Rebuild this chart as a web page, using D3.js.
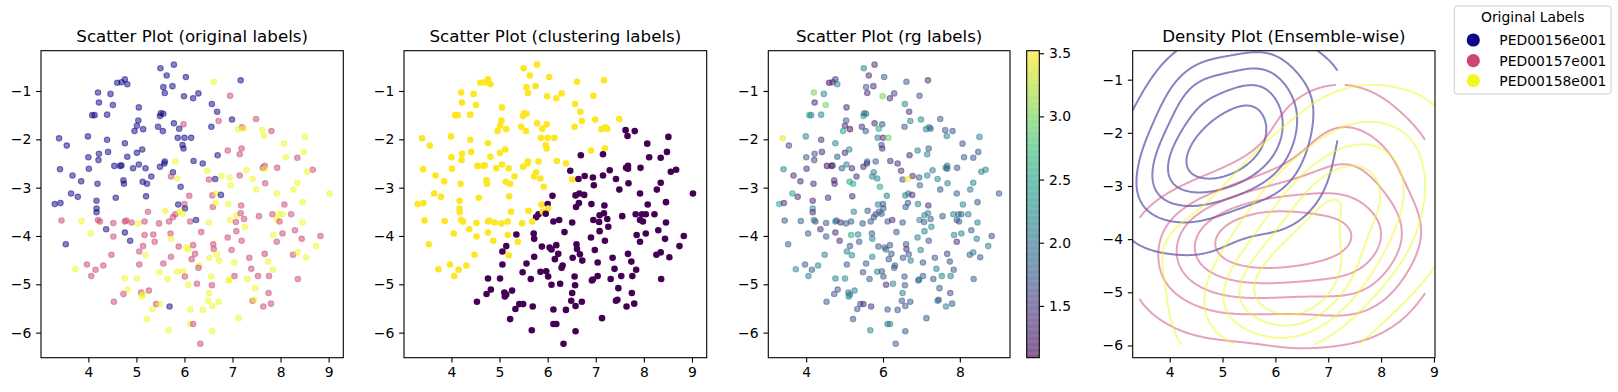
<!DOCTYPE html>
<html><head><meta charset="utf-8">
<script src="https://cdn.jsdelivr.net/npm/d3@7"></script>
<style>body{margin:0;background:#fff}svg{display:block}text{font-family:"DejaVu Sans",sans-serif}</style>
</head><body><svg id="c" width="1618" height="392"></svg>
<script>
const LABEL_NAMES = ["PED00156e001","PED00157e001","PED00158e001"];
const TITLES = ["Scatter Plot (original labels)","Scatter Plot (clustering labels)","Scatter Plot (rg labels)","Density Plot (Ensemble-wise)"];
const LEGEND_TITLE = "Original Labels";
const XTICKS = [4,5,6,7,8,9];
const XTICKS_RG = [4,6,8];
const YTICKS = [-1,-2,-3,-4,-5,-6];
const CBAR_TICKS = [1.5,2.0,2.5,3.0,3.5];
const KDE_QUANTILES = [0.05,0.24,0.43,0.62,0.81];
const BW_ADJUST = 1.25;

const X = [5.78,5.50,5.63,6.03,4.76,4.60,4.69,4.81,6.61,7.17,
5.56,5.75,4.20,4.46,5.59,6.29,5.99,6.18,6.95,4.22,
4.51,6.57,5.05,6.68,4.08,4.13,4.39,5.49,5.51,5.56,
6.71,6.99,7.49,5.04,5.78,5.98,5.01,5.14,5.45,6.56,
4.96,5.55,7.20,7.24,7.12,7.62,7.81,7.66,3.39,3.99,
4.39,4.76,5.86,6.00,6.14,3.55,5.96,8.51,8.07,7.19,
6.90,5.98,4.41,4.22,5.01,5.12,6.69,7.15,8.48,4.00,
4.21,4.81,8.11,8.35,5.81,6.19,6.38,5.59,5.58,3.41,
4.01,4.54,4.69,4.66,4.93,5.05,5.19,5.49,6.47,7.63,
7.67,7.67,7.93,7.29,8.67,8.56,3.67,5.31,5.76,5.72,
5.85,6.77,6.94,7.15,7.42,6.51,6.64,3.85,4.73,5.13,
5.22,4.74,4.19,5.92,6.96,7.68,8.35,7.49,3.64,3.78,
4.57,5.20,6.10,6.58,6.66,6.76,7.92,8.27,9.02,3.30,
3.42,4.17,5.87,6.00,6.01,6.59,6.65,6.91,7.18,8.08,
8.46,4.17,4.17,5.24,5.60,5.81,5.90,5.96,5.76,7.08,
7.17,7.83,7.96,8.04,8.22,3.44,3.86,4.20,4.24,4.52,
4.76,4.79,4.90,5.04,5.17,5.47,5.68,6.12,6.24,6.51,
6.95,7.07,7.24,7.55,7.92,7.98,8.46,4.37,4.76,4.87,
4.05,4.52,5.17,5.35,5.71,6.35,7.08,7.26,8.30,8.04,
7.85,6.90,7.19,5.72,5.38,3.53,7.92,8.44,8.83,8.74,
5.88,6.04,6.08,6.18,6.60,6.61,6.98,5.06,5.14,5.19,
4.48,5.72,6.22,6.15,6.52,6.67,6.72,7.35,7.67,7.74,
8.26,8.35,8.53,3.97,4.15,4.31,3.73,4.06,5.06,5.56,
6.31,6.29,7.04,5.48,5.85,5.97,6.01,7.39,7.84,4.76,
5.01,5.65,6.56,6.92,6.94,7.04,7.31,7.53,7.76,8.36,
6.08,6.26,6.57,7.47,4.82,4.73,5.10,5.14,5.11,5.26,
6.51,7.75,4.53,5.41,5.49,5.69,5.33,6.12,6.38,6.49,
6.58,6.71,7.42,7.45,7.64,7.80,5.22,6.12,6.18,7.13,
5.67,6.58,6.33,5.89];

const Y = [-0.455,-0.53,-0.68,-0.71,-0.76,-0.83,-0.82,-0.86,-0.81,-0.78,
-0.92,-0.90,-1.03,-1.06,-1.04,-1.05,-1.11,-1.15,-1.10,-1.24,
-1.29,-1.27,-1.34,-1.43,-1.50,-1.50,-1.49,-1.52,-1.46,-1.47,
-1.62,-1.59,-1.58,-1.61,-1.67,-1.69,-1.72,-1.79,-1.74,-1.74,
-1.83,-1.83,-1.75,-1.78,-1.79,-1.81,-1.83,-1.93,-1.98,-1.94,
-2.01,-2.08,-1.97,-1.97,-1.97,-2.13,-2.12,-1.95,-2.09,-2.19,
-2.23,-2.19,-2.26,-2.30,-2.28,-2.21,-2.33,-2.31,-2.26,-2.37,
-2.43,-2.36,-2.37,-2.38,-2.46,-2.45,-2.50,-2.46,-2.50,-2.62,
-2.61,-2.55,-2.54,-2.55,-2.60,-2.52,-2.60,-2.57,-2.65,-2.59,
-2.55,-2.61,-2.59,-2.64,-2.63,-2.67,-2.75,-2.77,-2.68,-2.77,
-2.81,-2.76,-2.79,-2.75,-2.82,-2.83,-2.82,-2.87,-2.85,-2.88,
-2.92,-2.92,-2.92,-2.98,-2.95,-2.91,-2.90,-3.04,-3.12,-3.19,
-3.21,-3.18,-3.17,-3.16,-3.12,-3.15,-3.12,-3.04,-3.12,-3.34,
-3.32,-3.27,-3.35,-3.34,-3.43,-3.40,-3.32,-3.34,-3.37,-3.35,
-3.30,-3.43,-3.51,-3.50,-3.48,-3.55,-3.50,-3.54,-3.61,-3.57,
-3.53,-3.55,-3.55,-3.55,-3.55,-3.68,-3.69,-3.67,-3.70,-3.73,
-3.70,-3.68,-3.72,-3.74,-3.70,-3.74,-3.70,-3.70,-3.67,-3.72,
-3.67,-3.71,-3.65,-3.59,-3.67,-3.70,-3.72,-3.86,-3.93,-4.10,
-3.95,-4.01,-3.98,-3.97,-3.95,-3.92,-3.90,-3.81,-3.88,-3.95,
-3.98,-4.03,-4.10,-4.06,-4.12,-4.17,-4.12,-4.06,-4.00,-4.21,
-4.22,-4.24,-4.28,-4.19,-4.17,-4.27,-4.29,-4.32,-4.21,-4.40,
-4.39,-4.43,-4.37,-4.48,-4.45,-4.38,-4.51,-4.45,-4.37,-4.53,
-4.39,-4.34,-4.44,-4.59,-4.70,-4.61,-4.69,-4.83,-4.59,-4.57,
-4.61,-4.66,-4.55,-4.75,-4.74,-4.73,-4.84,-4.68,-4.70,-4.88,
-4.88,-4.89,-4.84,-4.92,-4.90,-4.83,-4.89,-4.83,-4.83,-4.89,
-5.01,-4.99,-5.02,-5.08,-5.11,-5.20,-5.17,-5.21,-5.25,-5.13,
-5.18,-5.18,-5.36,-5.41,-5.41,-5.46,-5.51,-5.52,-5.53,-5.34,
-5.45,-5.36,-5.34,-5.32,-5.46,-5.40,-5.72,-5.82,-5.82,-5.70,
-5.95,-5.97,-6.23,-1.78];

const LABEL = [0,0,0,0,0,0,0,0,2,0,
0,0,0,0,0,0,0,0,1,0,
0,0,0,0,0,0,0,0,0,0,
1,0,1,0,0,1,0,0,0,0,
0,0,1,2,2,2,1,2,0,0,
0,0,0,0,0,0,0,2,2,1,
1,0,0,0,0,0,0,1,2,0,
0,0,2,1,2,0,0,0,0,0,
0,0,0,0,0,0,0,0,2,1,
1,2,1,2,1,2,0,0,0,1,
2,2,2,1,2,1,0,0,0,0,
0,0,0,0,2,1,2,2,0,0,
0,0,1,1,2,0,2,2,2,0,
0,0,0,1,0,1,2,2,1,1,
2,0,0,1,2,1,2,2,1,2,
1,1,2,2,1,1,2,1,1,1,
1,1,1,2,1,1,1,1,0,2,
2,1,1,1,2,1,2,0,0,0,
2,1,1,1,1,1,1,2,1,1,
2,1,1,2,1,0,1,1,1,2,
1,2,2,1,1,1,1,1,1,2,
1,1,1,1,2,2,2,1,1,2,
1,2,2,1,1,1,2,1,1,1,
2,1,2,2,2,2,1,1,2,2,
2,2,2,2,2,1,2,1,1,1,
2,1,1,2,2,1,1,2,2,1,
2,1,1,1,2,0,2,2,2,2,
2,2,1,2,1,1,2,2,1,2,
2,2,1,0];

const CLUSTER = [1,1,1,1,1,1,1,1,1,1,
1,1,1,1,1,1,1,1,1,1,
1,1,1,1,1,1,1,1,1,1,
1,1,1,1,1,1,1,1,1,1,
1,1,1,1,1,0,0,0,1,1,
1,1,1,1,1,1,1,0,0,1,
1,1,1,1,1,1,0,0,0,1,
1,1,0,0,1,1,1,1,1,1,
1,1,1,1,1,1,1,1,0,0,
0,0,0,0,0,0,1,1,1,1,
1,0,0,0,0,1,0,1,1,1,
1,1,1,1,0,0,0,0,1,1,
1,1,0,0,0,0,0,0,0,1,
1,1,1,0,1,0,0,0,0,0,
0,1,1,1,1,0,1,0,0,0,
0,0,0,0,0,1,1,1,1,1,
1,1,1,1,1,1,1,0,0,0,
0,0,0,0,0,0,0,1,1,1,
1,1,1,0,0,0,0,0,0,0,
0,0,0,0,1,1,0,0,0,0,
0,0,0,0,0,0,0,0,0,1,
1,0,0,0,0,0,0,0,0,0,
0,0,0,1,1,1,1,1,0,0,
0,0,0,0,0,0,0,0,0,0,
0,0,0,0,0,0,0,0,0,0,
0,0,0,0,0,0,0,0,0,0,
0,0,0,0,0,0,0,0,0,0,
0,0,0,0,0,0,0,0,0,0,
0,0,0,1];

const RG = [1.38,2.15,1.38,1.75,1.38,1.09,1.38,2.15,1.75,1.38,
1.75,1.38,3.0,2.15,1.38,1.58,3.0,1.38,1.75,1.38,
3.0,2.15,1.38,1.38,2.55,2.15,2.15,2.55,1.75,2.15,
2.15,2.15,1.75,1.75,1.38,1.75,1.38,1.12,1.38,1.75,
2.55,1.75,1.95,1.75,2.15,1.75,1.75,2.15,3.45,2.15,
1.38,2.15,2.15,1.38,3.0,1.58,1.75,2.15,1.75,1.75,
2.15,1.38,1.38,1.75,1.38,2.15,1.38,2.15,1.75,1.75,
1.58,1.75,1.75,1.75,1.75,1.38,1.38,1.95,1.38,2.15,
1.38,1.12,1.95,1.12,1.75,2.15,1.38,1.38,1.38,2.15,
1.95,1.75,1.75,2.15,2.15,2.15,1.38,1.38,2.15,2.15,
2.15,1.38,1.75,2.15,2.15,1.75,3.52,1.38,1.38,2.55,
2.55,1.38,1.38,2.55,1.95,2.15,2.15,1.75,2.55,1.38,
1.38,1.38,2.15,2.15,2.15,1.38,1.75,2.15,1.75,2.55,
1.38,1.38,2.15,1.75,1.75,1.75,1.75,2.15,1.38,2.15,
1.75,2.15,1.38,2.15,1.75,1.75,1.75,1.75,1.75,2.15,
2.15,2.15,1.95,1.75,2.15,1.75,1.75,2.15,1.75,1.75,
2.15,1.75,1.38,1.75,1.75,1.75,1.75,1.75,1.38,1.75,
2.15,1.75,1.75,1.75,1.75,1.75,2.15,1.38,1.38,1.38,
1.75,1.75,2.55,2.15,1.75,1.75,2.15,2.15,1.75,2.15,
2.15,2.15,1.75,2.15,1.75,1.75,1.38,2.15,1.58,2.15,
1.75,1.75,1.95,1.75,1.75,1.38,2.15,2.15,1.75,2.15,
2.15,2.15,1.75,1.75,1.75,1.75,2.15,1.75,1.58,1.75,
1.75,2.15,1.75,1.75,1.75,2.15,2.15,2.15,1.75,1.75,
1.75,1.75,1.75,1.75,2.15,1.75,1.75,2.15,1.75,2.15,
2.15,1.75,1.75,1.95,1.95,1.75,1.75,2.15,2.15,1.75,
1.38,2.15,1.75,1.75,1.75,1.75,1.95,2.15,2.15,2.15,
2.15,1.58,1.75,1.75,1.38,1.38,1.75,1.75,1.75,1.75,
1.75,1.75,1.95,1.75,2.15,1.75,1.75,1.95,2.15,1.75,
2.15,1.75,1.75,2.55];

// ---------- layout ----------
const TOP = 50.7, BOT = 357.7;
const PANELS = [
  {l:41, r:343.3},
  {l:404, r:706.7},
  {l:768.3, r:1010},
  {l:1132.7, r:1435}
];
const CBAR = {l:1026.7, r:1039.3};
const FS = 13.9, TFS = 16.67, TICK = 4.86;

const svg = d3.select("#c");
const N = X.length;
const idx = d3.range(N);

const xExt = d3.extent(X), yExt = d3.extent(Y);
const pad = (e) => { const s = e[1]-e[0]; return [e[0]-0.05*s, e[1]+0.05*s]; };
const xDomPad = pad(xExt), yDomPad = pad(yExt);

const labelColor = d3.scaleOrdinal().domain([0,1,2]).range([d3.interpolatePlasma(0), d3.interpolatePlasma(0.5), d3.interpolatePlasma(1)]);
const clusterColor = d3.scaleOrdinal().domain([0,1]).range([d3.interpolateViridis(0), d3.interpolateViridis(1)]);
const rgExt = d3.extent(RG);
const rgColor = d3.scaleSequential(d3.interpolateViridis).domain(rgExt);

function makePanel(i, xDom, yDom, xticks) {
  const p = PANELS[i];
  const xs = d3.scaleLinear().domain(xDom).range([p.l, p.r]);
  const ys = d3.scaleLinear().domain(yDom).range([BOT, TOP]);
  const g = svg.append("g");
  return {g, xs, ys, p, xticks};
}
function styleAxis(ax) {
  ax.attr("font-size", null).attr("font-family", null);
  ax.select(".domain").remove();
  ax.selectAll(".tick line").attr("stroke", "#000").attr("stroke-width", 1.1);
  ax.selectAll(".tick text").attr("fill", "#000").style("font-size", FS + "px").style("font-family", '"DejaVu Sans", sans-serif');
}
function finishPanel(P, title) {
  const {g, xs, ys, p, xticks} = P;
  const ax = g.append("g").attr("transform", `translate(0,${BOT})`)
    .call(d3.axisBottom(xs).tickValues(xticks).tickSize(TICK).tickPadding(TICK).tickSizeOuter(0).tickFormat(d3.format("d")));
  styleAxis(ax);
  const ay = g.append("g").attr("transform", `translate(${p.l},0)`)
    .call(d3.axisLeft(ys).tickValues(YTICKS).tickSize(TICK).tickPadding(TICK).tickSizeOuter(0).tickFormat(d3.format("d")));
  styleAxis(ay);
  g.append("rect").attr("x", p.l).attr("y", TOP).attr("width", p.r - p.l).attr("height", BOT - TOP)
    .attr("fill", "none").attr("stroke", "#000").attr("stroke-width", 1.1);
  g.append("text").attr("x", (p.l + p.r) / 2).attr("y", 42.4).attr("text-anchor", "middle")
    .style("font-size", TFS + "px").attr("fill", "#000").text(title);
}

// ---------- panel 1: original labels ----------
{
  const P = makePanel(0, xDomPad, yDomPad, XTICKS);
  P.g.append("g").selectAll("circle").data(idx).join("circle")
    .attr("cx", i => P.xs(X[i])).attr("cy", i => P.ys(Y[i])).attr("r", 2.75)
    .attr("fill", i => labelColor(LABEL[i])).attr("fill-opacity", 0.5)
    .attr("stroke", i => labelColor(LABEL[i])).attr("stroke-opacity", 0.5).attr("stroke-width", 1.1);
  finishPanel(P, TITLES[0]);
}
// ---------- panel 2: clustering labels ----------
{
  const P = makePanel(1, xDomPad, yDomPad, XTICKS);
  P.g.append("g").selectAll("circle").data(idx).join("circle")
    .attr("cx", i => P.xs(X[i])).attr("cy", i => P.ys(Y[i])).attr("r", 3.3)
    .attr("fill", i => clusterColor(CLUSTER[i]));
  finishPanel(P, TITLES[1]);
}
// ---------- panel 3: rg labels ----------
{
  const P = makePanel(2, xDomPad, yDomPad, XTICKS_RG);
  P.g.append("g").selectAll("circle").data(idx).join("circle")
    .attr("cx", i => P.xs(X[i])).attr("cy", i => P.ys(Y[i])).attr("r", 2.75)
    .attr("fill", i => rgColor(RG[i])).attr("fill-opacity", 0.5)
    .attr("stroke", i => rgColor(RG[i])).attr("stroke-opacity", 0.5).attr("stroke-width", 1.1);
  finishPanel(P, TITLES[2]);
  // colorbar
  const cs = d3.scaleLinear().domain(rgExt).range([BOT, TOP]);
  const cg = svg.append("g");
  const steps = 256;
  const hStep = (BOT - TOP) / steps;
  cg.selectAll("rect.cb").data(d3.range(steps)).join("rect").attr("class", "cb")
    .attr("x", CBAR.l).attr("width", CBAR.r - CBAR.l)
    .attr("y", k => BOT - (k + 1) * hStep - 0.3).attr("height", hStep + 0.6)
    .attr("fill", k => rgColor(rgExt[0] + (k + 0.5) / steps * (rgExt[1] - rgExt[0]))).attr("fill-opacity", 0.5);
  const ca = cg.append("g").attr("transform", `translate(${CBAR.r},0)`)
    .call(d3.axisRight(cs).tickValues(CBAR_TICKS).tickSize(TICK).tickPadding(TICK).tickSizeOuter(0).tickFormat(d3.format(".1f")));
  styleAxis(ca);
  cg.append("rect").attr("x", CBAR.l).attr("y", TOP).attr("width", CBAR.r - CBAR.l).attr("height", BOT - TOP)
    .attr("fill", "none").attr("stroke", "#000").attr("stroke-width", 1.1);
}
// ---------- panel 4: density contours ----------
{
  const P = makePanel(3, xExt, yExt, XTICKS);
  const GRID = 200;
  const groups = [0,1,2].map(lab => {
    const ii = idx.filter(i => LABEL[i] === lab);
    const xs = ii.map(i => X[i]), ys = ii.map(i => Y[i]);
    const n = xs.length;
    const mx = d3.mean(xs), my = d3.mean(ys);
    let sxx = 0, syy = 0, sxy = 0;
    for (let k = 0; k < n; k++) { const dx = xs[k]-mx, dy = ys[k]-my; sxx += dx*dx; syy += dy*dy; sxy += dx*dy; }
    sxx /= (n-1); syy /= (n-1); sxy /= (n-1);
    const f2 = Math.pow(n, -1/3) * BW_ADJUST * BW_ADJUST;
    const a = sxx*f2, b = sxy*f2, c = syy*f2;
    const det = a*c - b*b;
    const ia = c/det, ib = -b/det, ic = a/det;
    const norm = 1/(2*Math.PI*Math.sqrt(det)*n);
    const [x0, x1] = d3.extent(xs), [y0, y1] = d3.extent(ys);
    const sx = (x1-x0)/(GRID-1), sy = (y1-y0)/(GRID-1);
    const values = new Float64Array(GRID*GRID);
    for (let j = 0; j < GRID; j++) {
      const gy = y0 + j*sy;
      for (let i = 0; i < GRID; i++) {
        const gx = x0 + i*sx;
        let s = 0;
        for (let k = 0; k < n; k++) {
          const dx = gx - xs[k], dy = gy - ys[k];
          s += Math.exp(-0.5*(ia*dx*dx + 2*ib*dx*dy + ic*dy*dy));
        }
        values[j*GRID + i] = s*norm;
      }
    }
    const sorted = Array.from(values).sort((p, q) => q - p);
    const total = d3.sum(sorted);
    const cum = new Float64Array(sorted.length);
    let acc = 0;
    for (let k = 0; k < sorted.length; k++) { acc += sorted[k]; cum[k] = acc/total; }
    const levels = KDE_QUANTILES.map(q => sorted[Math.min(d3.bisectLeft(cum, 1 - q), sorted.length-1)]).sort((p, q) => p - q);
    return {lab, values, x0, y0, sx, sy, levels};
  });

  const clipId = "clip4";
  svg.append("defs").append("clipPath").attr("id", clipId).append("rect")
    .attr("x", P.p.l).attr("y", TOP).attr("width", P.p.r - P.p.l).attr("height", BOT - TOP);
  const cl = P.g.append("g").attr("clip-path", `url(#${clipId})`);
  const line = d3.line();
  groups.forEach(gr => {
    const contours = d3.contours().size([GRID, GRID]).thresholds(gr.levels)(gr.values);
    const onB = pt => pt[0] <= 0 || pt[0] >= GRID || pt[1] <= 0 || pt[1] >= GRID;
    const toPx = pt => {
      const cx = Math.max(0, Math.min(GRID-1, pt[0]-0.5));
      const cy = Math.max(0, Math.min(GRID-1, pt[1]-0.5));
      return [P.xs(gr.x0 + cx*gr.sx), P.ys(gr.y0 + cy*gr.sy)];
    };
    const lines = [];
    contours.forEach(mp => mp.coordinates.forEach(poly => poly.forEach(ring => {
      const pts = ring.slice(0, -1);
      const n = pts.length;
      if (n < 2) return;
      const keep = pts.map((pt, k) => !(onB(pt) && onB(pts[(k+1)%n])));
      if (keep.every(v => v)) { lines.push(ring.map(toPx)); return; }
      const start = keep.findIndex(v => !v);
      let cur = null;
      for (let j = 1; j <= n; j++) {
        const k = (start + j) % n;
        if (keep[k]) {
          if (!cur) cur = [pts[k]];
          cur.push(pts[(k+1)%n]);
        } else if (cur) { lines.push(cur.map(toPx)); cur = null; }
      }
      if (cur) lines.push(cur.map(toPx));
    })));
    cl.append("g").selectAll("path").data(lines).join("path")
      .attr("d", line).attr("fill", "none")
      .attr("stroke", labelColor(gr.lab)).attr("stroke-opacity", 0.5).attr("stroke-width", 2.0)
      .attr("stroke-linejoin", "round");
  });
  finishPanel(P, TITLES[3]);
}
// ---------- legend ----------
{
  const lg = svg.append("g");
  lg.append("rect").attr("x", 1454.3).attr("y", 6).attr("width", 156.7).attr("height", 88).attr("rx", 3)
    .attr("fill", "#fff").attr("fill-opacity", 0.8).attr("stroke", "#cccccc").attr("stroke-width", 1);
  lg.append("text").attr("x", 1532.7).attr("y", 22.3).attr("text-anchor", "middle").style("font-size", FS + "px").text(LEGEND_TITLE);
  const rowY = [40, 60.7, 80.7];
  LABEL_NAMES.forEach((name, k) => {
    lg.append("circle").attr("cx", 1473.3).attr("cy", rowY[k]).attr("r", 6.6).attr("fill", labelColor(k));
    lg.append("text").attr("x", 1499.3).attr("y", rowY[k] + 5).style("font-size", FS + "px").text(name);
  });
}
</script></body></html>
